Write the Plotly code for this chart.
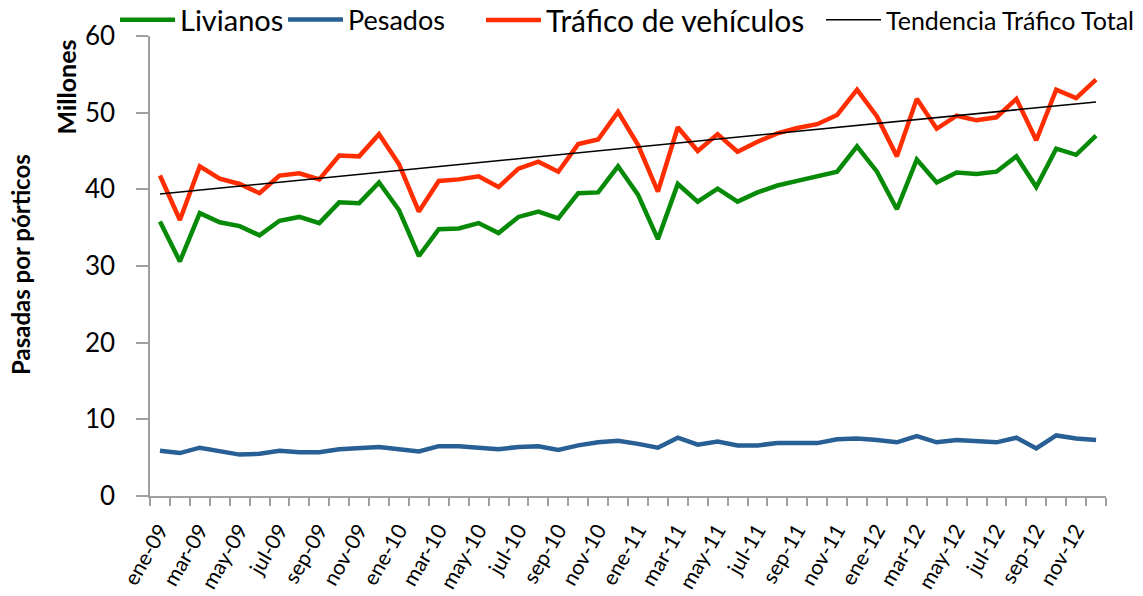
import plotly.graph_objects as go

months = ["ene", "feb", "mar", "abr", "may", "jun", "jul", "ago", "sep", "oct", "nov", "dic"]
years = ["09", "10", "11", "12"]
categories = [f"{m}-{y}" for y in years for m in months]

livianos = [35.8, 30.6, 36.9, 35.7, 35.2, 34.0, 35.9, 36.4, 35.6, 38.3, 38.2, 40.9,
            37.3, 31.3, 34.8, 34.9, 35.6, 34.3, 36.4, 37.1, 36.2, 39.5, 39.6, 43.0,
            39.3, 33.5, 40.7, 38.4, 40.1, 38.4, 39.6, 40.5, 41.1, 41.7, 42.3, 45.6,
            42.3, 37.4, 43.9, 40.9, 42.2, 42.0, 42.3, 44.3, 40.3, 45.3, 44.5, 47.0]

pesados = [5.9, 5.6, 6.3, 5.9, 5.4, 5.5, 5.9, 5.7, 5.7, 6.1, 6.2, 6.4,
           6.1, 5.8, 6.5, 6.5, 6.3, 6.1, 6.4, 6.5, 6.0, 6.6, 7.0, 7.2,
           6.8, 6.3, 7.6, 6.7, 7.1, 6.6, 6.6, 6.9, 6.9, 6.9, 7.4, 7.5,
           7.3, 7.0, 7.8, 7.0, 7.3, 7.1, 7.0, 7.6, 6.2, 7.9, 7.5, 7.3]

trafico = [41.8, 36.0, 43.0, 41.4, 40.7, 39.5, 41.8, 42.1, 41.3, 44.4, 44.3, 47.2,
           43.3, 37.1, 41.1, 41.3, 41.7, 40.3, 42.7, 43.6, 42.3, 45.9, 46.5, 50.1,
           45.8, 39.7, 48.1, 45.0, 47.2, 44.9, 46.2, 47.3, 48.0, 48.5, 49.7, 53.0,
           49.5, 44.3, 51.8, 47.9, 49.6, 49.0, 49.4, 51.8, 46.4, 53.0, 51.9, 54.3]

trend_values = [39.4, 51.4]  # trend line at first and last month

x_idx = list(range(len(categories)))
tick_idx = x_idx[::2]
tick_labels = categories[::2]

FONT = "Lato, Open Sans, sans-serif"

fig = go.Figure()
fig.add_trace(go.Scatter(x=x_idx, y=livianos, mode="lines", name="Livianos",
                         legend="legend",
                         line=dict(color="#078a07", width=4.5)))
fig.add_trace(go.Scatter(x=x_idx, y=pesados, mode="lines", name="Pesados",
                         legend="legend2",
                         line=dict(color="#285f95", width=4.5)))
fig.add_trace(go.Scatter(x=x_idx, y=trafico, mode="lines", name="Tráfico de vehículos",
                         legend="legend3",
                         line=dict(color="#ff2d00", width=4.5)))
fig.add_trace(go.Scatter(x=[x_idx[0], x_idx[-1]], y=trend_values, mode="lines",
                         name="Tendencia Tráfico Total", legend="legend4",
                         line=dict(color="black", width=1.6)))

# the page body has an 8px margin, so the figure is reduced by that amount
W, H = 1135, 588
PLOT_L, PLOT_T = 142, 28
PLOT_W, PLOT_H = 956, 460


def leg(x_px, size):
    return dict(orientation="h", xref="paper", yref="paper",
                x=(x_px - 7 - 150) / PLOT_W, y=1 + (36 - 20) / PLOT_H,
                xanchor="left", yanchor="middle",
                font=dict(size=size, family=FONT), bgcolor="rgba(0,0,0,0)",
                itemwidth=55)


fig.update_layout(
    width=W, height=H,
    margin=dict(l=PLOT_L, r=W - PLOT_L - PLOT_W, t=PLOT_T, b=H - PLOT_T - PLOT_H,
                autoexpand=False),
    paper_bgcolor="white", plot_bgcolor="white",
    font=dict(family=FONT, color="black"),
    showlegend=True,
    legend=leg(122, 29),
    legend2=leg(290, 27),
    legend3=leg(488, 30),
    legend4=leg(828, 25),
    xaxis=dict(range=[-0.5, len(categories) - 0.5],
               tickmode="array", tickvals=tick_idx, ticktext=tick_labels,
               tickangle=-60, tickfont=dict(size=21, family=FONT),
               ticks="", ticklabelstandoff=12, showgrid=False, zeroline=False,
               showline=True, linecolor="#a0a0a0", linewidth=1.5,
               minor=dict(tick0=-0.5, dtick=1, ticks="outside", ticklen=8,
                          tickcolor="#a0a0a0", tickwidth=1.5, showgrid=False)),
    yaxis=dict(range=[0, 60], dtick=10, tickfont=dict(size=26, family=FONT),
               ticks="outside", ticklen=12, tickcolor="#a0a0a0", tickwidth=1.5,
               ticklabelstandoff=16,
               showgrid=False, zeroline=False,
               showline=True, linecolor="#a0a0a0", linewidth=1.5),
)

fig.add_annotation(text="<b>Millones</b>", xref="paper", yref="paper",
                   x=(66 - 150) / PLOT_W, y=1 + (36 - 38) / PLOT_H,
                   xanchor="center", yanchor="top",
                   textangle=-90, showarrow=False, font=dict(size=25, family=FONT))
fig.add_annotation(text="<b>Pasadas por pórticos</b>", xref="paper", yref="paper",
                   x=(20 - 150) / PLOT_W, y=(496 - 265) / PLOT_H,
                   xanchor="center", yanchor="middle",
                   textangle=-90, showarrow=False, font=dict(size=24, family=FONT))

fig.write_html("out.html")
